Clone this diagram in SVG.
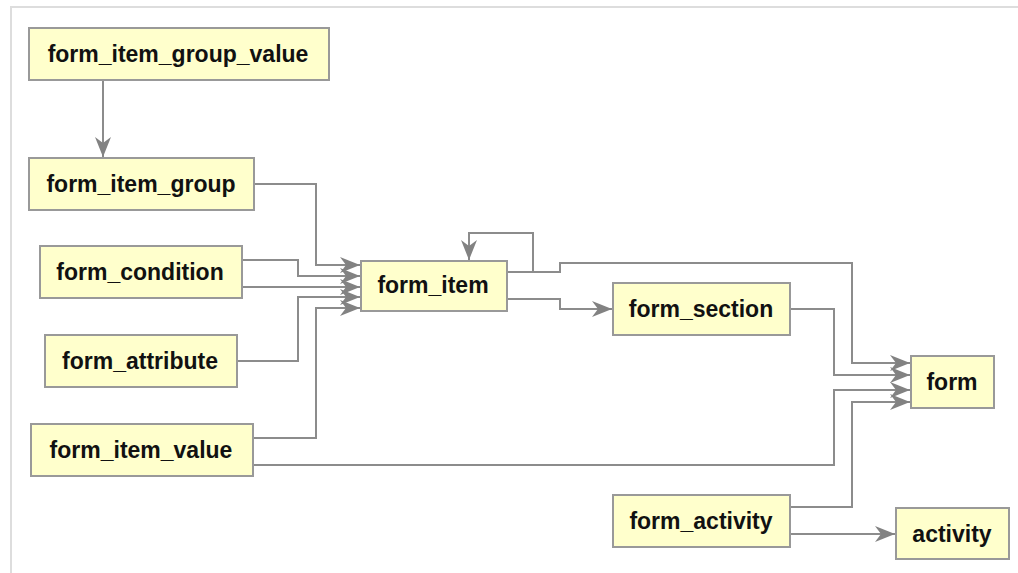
<svg xmlns="http://www.w3.org/2000/svg" width="1018" height="573" viewBox="0 0 1018 573">
  <style>
    .node rect { fill: #ffffcc; stroke: #999999; stroke-width: 2; }
    .node text { font-family: "Liberation Sans", Arial, sans-serif; font-size: 23px; font-weight: bold; fill: #111111; text-anchor: middle; }
    .edge { fill: none; stroke: #8c8c8c; stroke-width: 2; marker-end: url(#arrow); }
    .frame { fill: none; stroke: #dddddd; stroke-width: 2; }
  </style>
  <defs>
    <marker id="arrow" viewBox="-21 -9 22 18" refX="0" refY="0" markerWidth="22" markerHeight="18" markerUnits="userSpaceOnUse" orient="auto">
      <path d="M0,0 L-20,-8 L-14,0 L-20,8 Z" fill="#828282"/>
    </marker>
  </defs>

  <rect width="1018" height="573" fill="#ffffff"/>
  <!-- panel frame -->
  <path class="frame" d="M11,580 V7 H1030"/>

  <g id="connectors">
    <path class="edge" d="M103,80 V157"/>
    <path class="edge" d="M254,184 H316 V265 H360"/>
    <path class="edge" d="M242,260 H298 V276 H360"/>
    <path class="edge" d="M242,287 H360"/>
    <path class="edge" d="M237,361 H298 V297 H360"/>
    <path class="edge" d="M253,438 H316 V308 H360"/>
    <path class="edge" d="M507,272 H533 V233 H469 V260"/>
    <path class="edge" d="M507,272 H560 V263 H852 V363 H910"/>
    <path class="edge" d="M507,299 H560 V309 H612"/>
    <path class="edge" d="M790,309 H834 V375 H910"/>
    <path class="edge" d="M253,465 H834 V390 H910"/>
    <path class="edge" d="M790,507 H852 V402 H910"/>
    <path class="edge" d="M790,534 H895"/>
  </g>

  <g id="form_item_group_value" class="node">
    <rect x="29" y="28" width="300" height="52"/>
    <text x="178" y="62">form_item_group_value</text>
  </g>
  <g id="form_item_group" class="node">
    <rect x="29" y="158" width="225" height="52"/>
    <text x="141" y="192">form_item_group</text>
  </g>
  <g id="form_condition" class="node">
    <rect x="40" y="246" width="202" height="52"/>
    <text x="140" y="280">form_condition</text>
  </g>
  <g id="form_attribute" class="node">
    <rect x="45" y="335" width="192" height="52"/>
    <text x="140" y="369">form_attribute</text>
  </g>
  <g id="form_item_value" class="node">
    <rect x="31" y="424" width="222" height="52"/>
    <text x="141" y="458">form_item_value</text>
  </g>
  <g id="form_item" class="node">
    <rect x="361" y="261" width="146" height="50"/>
    <text x="433" y="293">form_item</text>
  </g>
  <g id="form_section" class="node">
    <rect x="613" y="283" width="177" height="52"/>
    <text x="701" y="317">form_section</text>
  </g>
  <g id="form" class="node">
    <rect x="911" y="356" width="83" height="52"/>
    <text x="952" y="390">form</text>
  </g>
  <g id="form_activity" class="node">
    <rect x="613" y="495" width="177" height="52"/>
    <text x="701" y="529">form_activity</text>
  </g>
  <g id="activity" class="node">
    <rect x="896" y="508" width="113" height="51"/>
    <text x="952" y="542">activity</text>
  </g>
</svg>
